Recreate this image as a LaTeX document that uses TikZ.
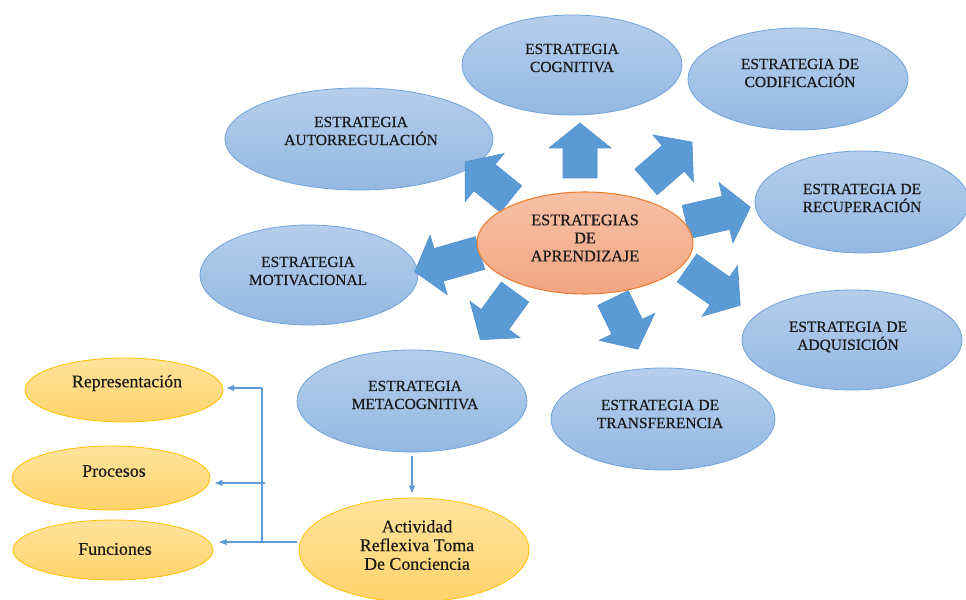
\documentclass[tikz,border=0pt]{standalone}
\usepackage{fontspec}
\setmainfont{Liberation Serif}
\newfontfamily\heavyserif{Liberation Serif}[FakeBold=0.5]
\usetikzlibrary{shapes.geometric,arrows.meta}
\definecolor{bluetop}{HTML}{B5CEEC}
\definecolor{bluebot}{HTML}{94B8E2}
\definecolor{blueedge}{HTML}{6FA3DA}
\definecolor{arrowfill}{HTML}{5B9BD5}
\definecolor{arrowedge}{HTML}{4F8DCB}
\definecolor{saltop}{HTML}{F7C1A6}
\definecolor{salbot}{HTML}{F3A583}
\definecolor{saledge}{HTML}{ED7D31}
\definecolor{yeltop}{HTML}{FFE39D}
\definecolor{yelbot}{HTML}{FFD36A}
\definecolor{yeledge}{HTML}{FFC000}
\definecolor{conn}{HTML}{5B9BD5}
\definecolor{txt}{HTML}{1A1A1A}
\tikzset{
  ellbase/.style={ellipse, inner sep=0pt, line width=0.6pt},
  blueell/.style={ellbase, draw=blueedge, top color=bluetop, bottom color=bluebot},
  salell/.style={ellbase, draw=saledge, line width=0.8pt, top color=saltop, bottom color=salbot},
  yelell/.style={ellbase, draw=yeledge, top color=yeltop, bottom color=yelbot},
  bluetext/.style={align=center, font=\heavyserif\fontsize{11.6}{13.5}\selectfont, text=txt},
  yeltext/.style={align=center, font=\heavyserif\fontsize{13.4}{14}\selectfont, text=txt},
  connline/.style={draw=conn, line width=0.8pt},
  conntip/.style={connline, -{Latex[length=6pt,width=5pt]}},
  pics/barrow/.style={code={
    \filldraw[fill=arrowfill, draw=arrowedge, line width=0.4pt]
      (0,-17) -- ({#1-25},-17) -- ({#1-25},-31) -- (#1,0) -- ({#1-25},31)
      -- ({#1-25},17) -- (0,17) -- cycle;}}
}
\begin{document}
\begin{tikzpicture}[x=0.75pt,y=0.75pt]
\useasboundingbox (0,0) rectangle (966,599);
% blue ellipses
\node[blueell, minimum width=165pt, minimum height=75pt] (cog) at (572,534) {};
\node[blueell, minimum width=165pt, minimum height=76.5pt] (cod) at (798,520) {};
\node[blueell, minimum width=201pt, minimum height=76.5pt] (auto) at (359,460) {};
\node[blueell, minimum width=160.5pt, minimum height=76.5pt] (rec) at (862,397) {};
\node[blueell, minimum width=163.5pt, minimum height=75pt] (mot) at (309,324) {};
\node[blueell, minimum width=165pt, minimum height=75pt] (adq) at (852,259) {};
\node[blueell, minimum width=172.5pt, minimum height=76.5pt] (meta) at (412,198) {};
\node[blueell, minimum width=168pt, minimum height=76.5pt] (trans) at (663,180) {};
% block arrows
\pic[rotate=90] at (580,421) {barrow=55};
\pic[rotate=41] at (646,417) {barrow=61};
\pic[rotate=13] at (686,377) {barrow=66};
\pic[rotate=-35] at (687,331) {barrow=65};
\pic[rotate=-64] at (613,301) {barrow=57};
\pic[rotate=-126] at (515,307) {barrow=59};
\pic[rotate=196] at (480,346) {barrow=68};
\pic[rotate=141] at (511,400) {barrow=59};
% central ellipse
\node[salell, minimum width=162pt, minimum height=76.5pt] (cen) at (585,356) {};
% yellow ellipses
\node[yelell, minimum width=148.5pt, minimum height=48pt] (repr) at (124,209) {};
\node[yelell, minimum width=148.5pt, minimum height=48pt] (proc) at (111,121) {};
\node[yelell, minimum width=150pt, minimum height=45pt] (func) at (113,49) {};
\node[yelell, minimum width=172.5pt, minimum height=78pt] (act) at (414,49) {};
% texts
\node[bluetext] (cogt) at (572,541) {ESTRATEGIA\\COGNITIVA};
\node[bluetext] (codt) at (800,526) {ESTRATEGIA DE\\CODIFICACIÓN};
\node[bluetext] (autot) at (361,468) {ESTRATEGIA\\AUTORREGULACIÓN};
\node[bluetext] (rect) at (862,401) {ESTRATEGIA DE\\RECUPERACIÓN};
\node[bluetext, font=\heavyserif\fontsize{12.2}{13.5}\selectfont] (cent) at (585,361) {ESTRATEGIAS\\DE\\APRENDIZAJE};
\node[bluetext] (mott) at (308,328) {ESTRATEGIA\\MOTIVACIONAL};
\node[bluetext] (adqt) at (848,262) {ESTRATEGIA DE\\ADQUISICIÓN};
\node[bluetext] (metat) at (415,204) {ESTRATEGIA\\METACOGNITIVA};
\node[bluetext] (transt) at (660,185) {ESTRATEGIA DE\\TRANSFERENCIA};
\node[yeltext] (reprt) at (127,216) {Representación};
\node[yeltext] (proct) at (114,128) {Procesos};
\node[yeltext] (funct) at (115,50) {Funciones};
\node[yeltext] (actt) at (417,54) {Actividad\\Reflexiva Toma\\De Conciencia};
% connectors
\draw[conntip] ([yshift=-3]meta.south) -- ([yshift=3]meta.south |- act.north);
\coordinate (bj) at (262,57);
\coordinate (pj) at (265,116);
\coordinate (rj) at (262,211);
\draw[connline] ([xshift=-1]act.west |- bj) -- (bj) -- (rj);
\draw[conntip] (rj) -- ([xshift=2]repr.east |- rj);
\draw[conntip] (pj) -- ([xshift=3]proc.east |- pj);
\draw[conntip] (bj) -- ([xshift=4]func.east |- bj);
\end{tikzpicture}
\end{document}
